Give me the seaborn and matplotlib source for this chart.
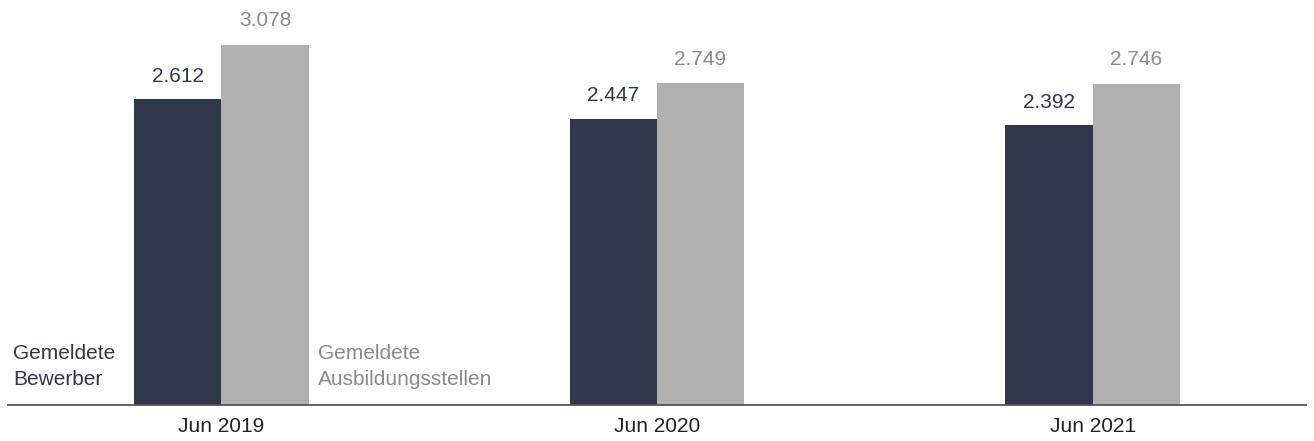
import matplotlib
matplotlib.use("Agg")
import matplotlib.pyplot as plt
import seaborn as sns
import pandas as pd

categories = ["Jun 2019", "Jun 2020", "Jun 2021"]
bewerber = [2612, 2447, 2392]
stellen = [3078, 2749, 2746]
series_names = ["Gemeldete Bewerber", "Gemeldete Ausbildungsstellen"]

DARK = "#2f374b"
GRAY = "#b0b0b0"
GRAY_TXT = "#8a8a8a"

df = pd.DataFrame({
    "cat": categories * 2,
    "val": bewerber + stellen,
    "series": [series_names[0]] * 3 + [series_names[1]] * 3,
})

sns.set_theme(style="white")
plt.rcParams["font.family"] = ["Liberation Sans", "DejaVu Sans"]

fig = plt.figure(figsize=(13.14, 4.41), dpi=100)
ax = fig.add_axes([8 / 1314, 36 / 441, 1298 / 1314, 405 / 441])

sns.barplot(data=df, x="cat", y="val", hue="series", palette=[DARK, GRAY],
            width=0.4, gap=0, legend=False, ax=ax, saturation=1, linewidth=0)

def fmt(v):
    return f"{v:,}".replace(",", ".")

FS = 15
for i, (b, s) in enumerate(zip(bewerber, stellen)):
    ax.annotate(fmt(b), (i - 0.1, b), xytext=(0, 16.5), textcoords="offset points",
                ha="center", va="center", fontsize=FS, color=DARK)
    ax.annotate(fmt(s), (i + 0.1, s), xytext=(0, 17.5), textcoords="offset points",
                ha="center", va="center", fontsize=FS, color=GRAY_TXT)

ax.annotate("Gemeldete\nBewerber", (-0.478, 0), xytext=(0, 16),
            textcoords="offset pixels", ha="left", va="bottom", fontsize=FS,
            color=DARK, linespacing=1.45)
ax.annotate("Gemeldete\nAusbildungsstellen", (0.2, 0), xytext=(9, 16),
            textcoords="offset pixels", ha="left", va="bottom", fontsize=FS,
            color=GRAY_TXT, linespacing=1.45)

ax.set_xlim(-0.49, 2.49)
ax.set_ylim(0, 3462)
ax.set_xlabel("")
ax.set_ylabel("")
ax.set_yticks([])
for sp in ["top", "right", "left"]:
    ax.spines[sp].set_visible(False)
ax.spines["bottom"].set_color("#555555")
ax.spines["bottom"].set_linewidth(1.3)
ax.tick_params(axis="x", length=0, labelsize=FS, colors="#222222", pad=9)

fig.savefig("out.png", dpi=100)
